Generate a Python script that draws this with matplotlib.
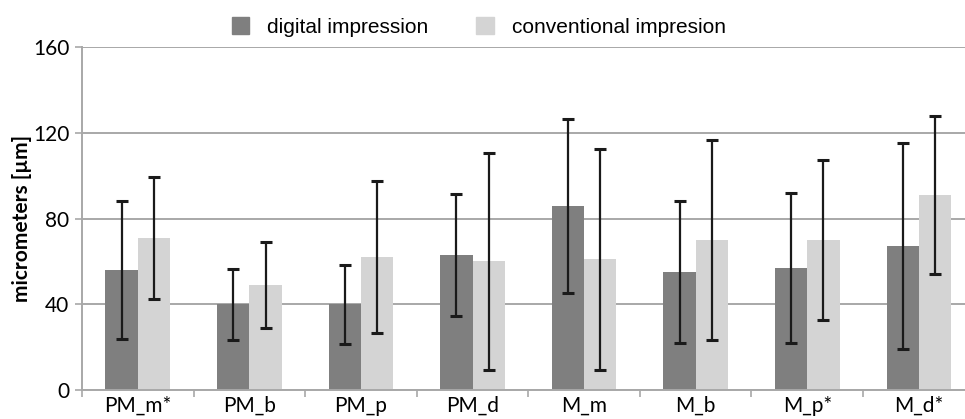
import matplotlib
matplotlib.use("Agg")
import matplotlib.pyplot as plt
import numpy as np
from matplotlib.patches import Patch

# values
sites = ["PM_m*", "PM_b", "PM_p", "PM_d", "M_m", "M_b", "M_p*", "M_d*"]
digital_mean = [56, 40, 40, 63, 86, 55, 57, 67]
digital_sd = [32, 16.5, 18.5, 28.5, 40.5, 33, 35, 48]
conv_mean = [71, 49, 62, 60, 61, 70, 70, 91]
conv_sd = [28.5, 20, 35.5, 50.5, 51.5, 46.5, 37.5, 37]
yticks = [0, 40, 80, 120, 160]

fig = plt.figure(figsize=(9.65, 4.19), dpi=100)
ax = fig.add_axes([0.085, 0.069, 0.925, 0.819])

x = np.arange(len(sites))
w = 0.29
err_kw = dict(ecolor="#1a1a1a", elinewidth=1.6, capsize=4.5, capthick=2.2)
ax.bar(x - w / 2, digital_mean, w, yerr=digital_sd, color="#7f7f7f",
       error_kw=err_kw, zorder=2)
ax.bar(x + w / 2, conv_mean, w, yerr=conv_sd, color="#d4d4d4",
       error_kw=err_kw, zorder=2)

ax.set_xlim(-0.5, len(sites) - 0.5)
ax.set_ylim(0, 160)
ax.set_yticks(yticks)
ax.set_yticklabels([str(t) for t in yticks], family="Lato", fontsize=15)
ax.yaxis.grid(True, color="#a8a8a8", linewidth=1.4, zorder=0)
ax.set_axisbelow(True)

ax.set_xticks(x)
ax.set_xticklabels(sites, family="Lato", fontsize=15)
ax.set_xticks(np.arange(-0.5, len(sites)), minor=True)
ax.tick_params(axis="x", which="major", length=0, pad=4)
ax.tick_params(axis="x", which="minor", length=5, color="#a8a8a8", width=1.2)
ax.tick_params(axis="y", length=5, color="#a8a8a8", width=1.2, pad=4)

for s in ["top", "right"]:
    ax.spines[s].set_visible(False)
for s in ["left", "bottom"]:
    ax.spines[s].set_color("#a8a8a8")
    ax.spines[s].set_linewidth(1.4)

ax.set_ylabel("micrometers [µm]", family="Lato", fontweight="bold",
              fontsize=15, labelpad=1)

handles = [Patch(color="#7f7f7f", label="digital impression"),
           Patch(color="#d4d4d4", label="conventional impresion")]
fig.legend(handles=handles, loc="center", bbox_to_anchor=(0.496, 0.935),
           ncol=2, frameon=False, prop={"family": "Liberation Sans", "size": 15},
           handlelength=0.85, handleheight=0.85, handletextpad=0.85,
           columnspacing=2.3)

fig.savefig("out.png", dpi=100)
